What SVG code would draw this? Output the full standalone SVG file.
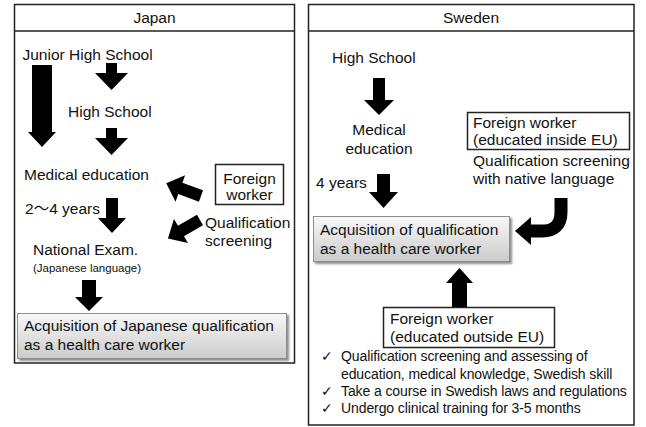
<svg xmlns="http://www.w3.org/2000/svg" width="646" height="427" viewBox="0 0 646 427">
  <defs>
    <linearGradient id="boxFill" x1="0" y1="0" x2="0" y2="1">
      <stop offset="0" stop-color="#f8f8f8"/>
      <stop offset="1" stop-color="#cbcbcb"/>
    </linearGradient>
    <filter id="shadow" x="-5%" y="-10%" width="115%" height="140%">
      <feGaussianBlur in="SourceAlpha" stdDeviation="1.2"/>
      <feOffset dx="2" dy="2" result="b"/>
      <feComponentTransfer><feFuncA type="linear" slope="0.45"/></feComponentTransfer>
      <feMerge><feMergeNode/><feMergeNode in="SourceGraphic"/></feMerge>
    </filter>
    <!-- block arrow pointing along +x, length 37 -->
    <polygon id="diagArrow" points="0,-6 22,-6 22,-14 37,0 22,14 22,6 0,6"/>
  </defs>
  <style>
    text { font-family: "Liberation Sans", Arial, sans-serif; fill: #111; }
    .t { font-size: 15.5px; }
    .sm { font-size: 11.5px; }
    .li { font-size: 14px; letter-spacing: -0.1px; }
    .panel { fill: #fff; stroke: #222; stroke-width: 1.5; }
    .sep { stroke: #222; stroke-width: 1.5; }
    .box { fill: #fff; stroke: #222; stroke-width: 1.5; }
    .gbox { fill: url(#boxFill); stroke: #8c8c8c; stroke-width: 1; filter: url(#shadow); }
    .arr { fill: #000; }
    .mid { text-anchor: middle; }
  </style>

  <rect width="646" height="427" fill="#fff"/>

  <!-- Japan panel -->
  <g id="panel-japan">
    <rect class="panel" x="14.5" y="4.5" width="280" height="358.5"/>
    <line class="sep" x1="14.5" y1="31" x2="294.5" y2="31"/>
    <text class="t mid" x="154.5" y="23">Japan</text>
  </g>

  <!-- Sweden panel -->
  <g id="panel-sweden">
    <rect class="panel" x="308.5" y="4.5" width="325.5" height="420.5"/>
    <line class="sep" x1="308.5" y1="31" x2="634" y2="31"/>
    <text class="t mid" x="471" y="23">Sweden</text>
  </g>

  <!-- Japan nodes -->
  <g id="jp-junior-high"><text class="t" x="22.5" y="60">Junior High School</text></g>
  <g id="jp-high-school"><text class="t" x="68" y="117">High School</text></g>
  <g id="jp-medical-education"><text class="t" x="24" y="180">Medical education</text></g>
  <g id="jp-years"><text class="t" x="25" y="214">2<tspan font-family="'Noto Sans CJK JP', sans-serif">～</tspan>4 years</text></g>
  <g id="jp-foreign-worker">
    <rect class="box" x="215.5" y="164.5" width="68" height="40"/>
    <text class="t mid" x="249.5" y="184">Foreign</text>
    <text class="t mid" x="249.5" y="200">worker</text>
  </g>
  <g id="jp-screening">
    <text class="t" x="205" y="228">Qualification</text>
    <text class="t" x="205" y="246">screening</text>
  </g>
  <g id="jp-national-exam">
    <text class="t" x="33" y="255">National Exam.</text>
    <text class="sm" x="33" y="272">(Japanese language)</text>
  </g>
  <g id="jp-acquisition">
    <rect class="gbox" x="17.5" y="313.5" width="269" height="45"/>
    <text class="t" x="24" y="331">Acquisition of Japanese qualification</text>
    <text class="t" x="24" y="350">as a health care worker</text>
  </g>

  <!-- Sweden nodes -->
  <g id="se-high-school"><text class="t" x="332" y="63">High School</text></g>
  <g id="se-medical-education">
    <text class="t mid" x="379" y="135">Medical</text>
    <text class="t mid" x="379" y="154">education</text>
  </g>
  <g id="se-years"><text class="t" x="316" y="188">4 years</text></g>
  <g id="se-foreign-inside">
    <rect class="box" x="467.5" y="112.5" width="162" height="37"/>
    <text class="t" x="473" y="128">Foreign worker</text>
    <text class="t" x="473" y="145">(educated inside EU)</text>
  </g>
  <g id="se-screening-native">
    <text class="t" x="473" y="166">Qualification screening</text>
    <text class="t" x="473" y="184">with native language</text>
  </g>
  <g id="se-acquisition">
    <rect class="gbox" x="313.5" y="216.5" width="196" height="45"/>
    <text class="t" x="320" y="235">Acquisition of qualification</text>
    <text class="t" x="320" y="254">as a health care worker</text>
  </g>
  <g id="se-foreign-outside">
    <rect class="box" x="383.5" y="307.5" width="171" height="40"/>
    <text class="t" x="390" y="324">Foreign worker</text>
    <text class="t" x="390" y="342">(educated outside EU)</text>
  </g>
  <g id="se-requirements">
    <text class="li" x="321" y="361">✓</text>
    <text class="li" x="341" y="361">Qualification screening and assessing of</text>
    <text class="li" x="341" y="379">education, medical knowledge, Swedish skill</text>
    <text class="li" x="321" y="396">✓</text>
    <text class="li" x="341" y="396">Take a course in Swedish laws and regulations</text>
    <text class="li" x="321" y="413">✓</text>
    <text class="li" x="341" y="413">Undergo clinical training for 3-5 months</text>
  </g>

  <!-- Connectors -->
  <g id="connectors" class="arr">
    <!-- Japan -->
    <polygon points="32,65 52,65 52,132 56,132 42,147 28,132 32,132"/>
    <polygon points="106,63 117,63 117,73 128,73 111.5,90 95,73 106,73"/>
    <polygon points="106,128 117,128 117,138 128,138 111.5,155 95,138 106,138"/>
    <polygon points="106,198 118,198 118,218 126,218 112,233 98,218 106,218"/>
    <polygon points="82,280 96,280 96,297 103,297 89,311 75,297 82,297"/>
    <use href="#diagArrow" transform="translate(201,196) rotate(200)"/>
    <use href="#diagArrow" transform="translate(200,220) rotate(150)"/>
    <!-- Sweden -->
    <polygon points="373,78 385,78 385,100 394,100 379,115 364,100 373,100"/>
    <polygon points="377,174 390,174 390,192 398,192 383.5,208 369,192 377,192"/>
    <polygon points="452,307 467,307 467,283 473,283 459.5,268 446,283 452,283"/>
    <path d="M561,198 V212 Q561,231 542,231 H530" fill="none" stroke="#000" stroke-width="13"/>
    <polygon points="531,217 531,245 515,231"/>
  </g>
</svg>
